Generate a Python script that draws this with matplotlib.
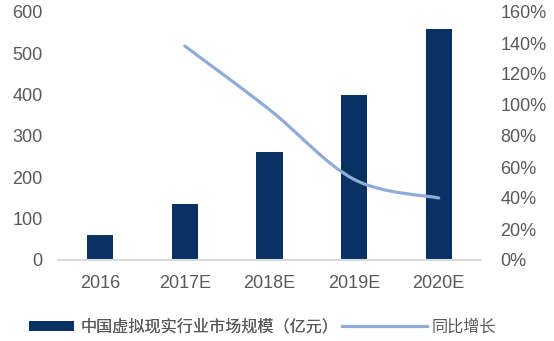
import matplotlib
matplotlib.use("Agg")
import matplotlib.pyplot as plt
from matplotlib.path import Path
from matplotlib.patches import PathPatch, Patch
from matplotlib.lines import Line2D
from matplotlib.ticker import FuncFormatter, MultipleLocator

plt.rcParams['font.family'] = ['Liberation Sans', 'Noto Sans CJK SC', 'DejaVu Sans']

categories = ['2016', '2017E', '2018E', '2019E', '2020E']
market_size = [60, 135, 262, 400, 560]
growth = [None, 1.38, 0.97, 0.52, 0.40]
bar_label = '中国虚拟现实行业市场规模（亿元）'
line_label = '同比增长'

BAR_C = '#0A3163'
LINE_C = '#8FACD6'
TXT_C = '#595959'

fig = plt.figure(figsize=(5.54, 3.41), dpi=100)
ax = fig.add_axes([58/554, 1-260/341, (481-58)/554, (260-12)/341])
x = list(range(len(categories)))
ax.bar(x, market_size, width=0.31, color=BAR_C, zorder=2)
ax.set_xlim(-0.5, len(categories)-0.5)
ax.set_ylim(0, 600)
ax.yaxis.set_major_locator(MultipleLocator(100))
ax.set_xticks(x)
ax.set_xticklabels(categories)
for s in ['top', 'right', 'left']:
    ax.spines[s].set_visible(False)
ax.spines['bottom'].set_color('#D9D9D9')
ax.spines['bottom'].set_linewidth(1.5)
ax.tick_params(axis='both', length=0, labelsize=13, colors=TXT_C)
ax.tick_params(axis='y', pad=11)
ax.tick_params(axis='x', pad=11)

ax2 = ax.twinx()
ax2.set_ylim(0, 1.6)
ax2.yaxis.set_major_locator(MultipleLocator(0.2))
ax2.yaxis.set_major_formatter(FuncFormatter(lambda v, p: f'{v*100:.0f}%'))
for s in ['top', 'right', 'left', 'bottom']:
    ax2.spines[s].set_visible(False)
ax2.tick_params(axis='y', length=0, labelsize=13, colors=TXT_C, pad=14)

# smoothed line (Catmull-Rom style Bezier through data points)
pts = [(xi, g) for xi, g in zip(x, growth) if g is not None]
verts = [pts[0]]
codes = [Path.MOVETO]
n = len(pts)
for i in range(n-1):
    p0 = pts[max(i-1, 0)]
    p1 = pts[i]
    p2 = pts[i+1]
    p3 = pts[min(i+2, n-1)]
    c1 = (p1[0] + (p2[0]-p0[0])/6, p1[1] + (p2[1]-p0[1])/6)
    c2 = (p2[0] - (p3[0]-p1[0])/6, p2[1] - (p3[1]-p1[1])/6)
    verts += [c1, c2, p2]
    codes += [Path.CURVE4]*3
patch = PathPatch(Path(verts, codes), facecolor='none', edgecolor=LINE_C,
                  linewidth=2.3, transform=ax2.transData, capstyle='round')
ax2.add_patch(patch)

fs = 11.6
em = fs * 100 / 72
prop = {'family': ['Noto Sans CJK SC', 'DejaVu Sans'], 'size': fs}
leg1 = fig.legend(handles=[Patch(facecolor=BAR_C, edgecolor='none')], labels=[bar_label],
                  loc='center left', bbox_to_anchor=(29/554, 1-327/341), frameon=False,
                  prop=prop, handlelength=45/em, handleheight=0.6, handletextpad=6/em,
                  borderpad=0, borderaxespad=0, labelcolor=TXT_C)
leg2 = fig.legend(handles=[Line2D([], [], color=LINE_C, linewidth=2.3)], labels=[line_label],
                  loc='center left', bbox_to_anchor=(342/554, 1-327/341), frameon=False,
                  prop=prop, handlelength=85/em, handletextpad=5/em,
                  borderpad=0, borderaxespad=0, labelcolor=TXT_C)
fig.add_artist(leg1)

fig.savefig('out.png', dpi=100)
